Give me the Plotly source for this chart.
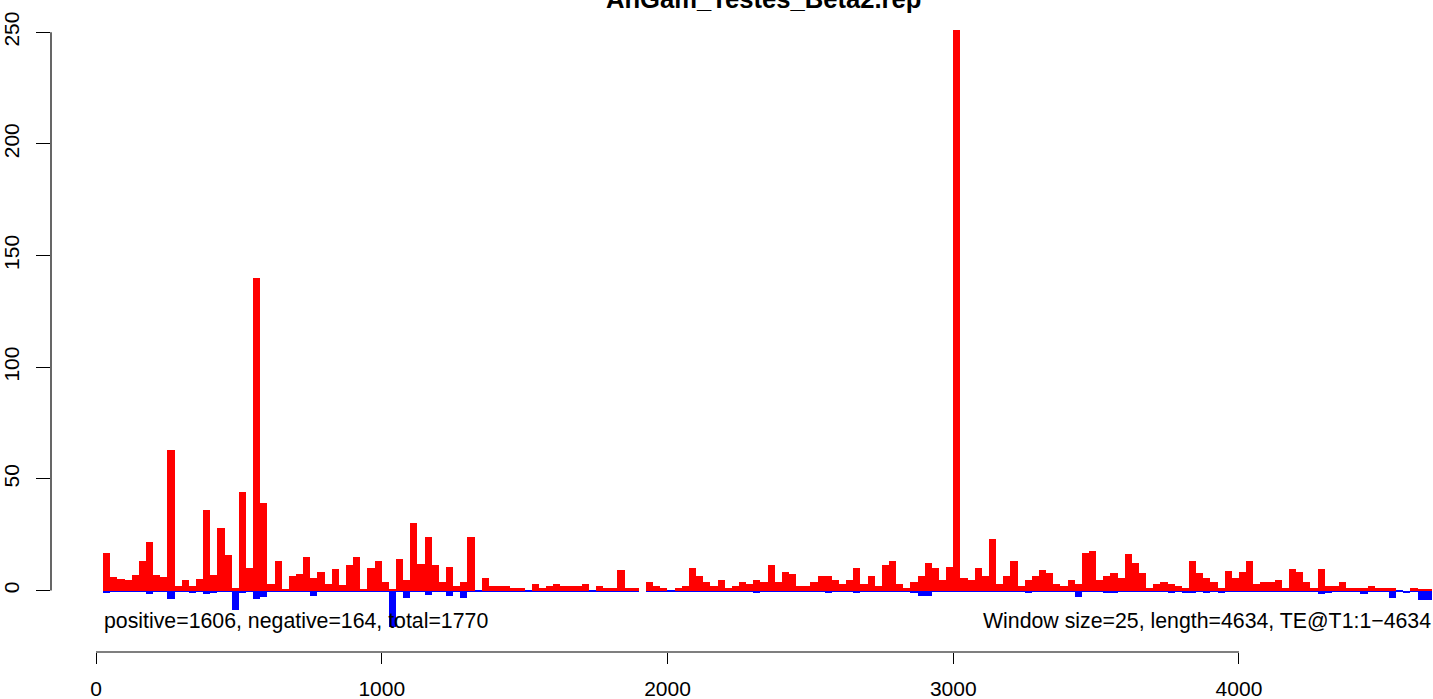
import numpy as np
import plotly.graph_objects as go

WINDOW = 25
LENGTH = 4634
TITLE = "AnGam_Testes_Beta2.rep"

# counts per 25-bp window (window index 1..186)
positive = [
    17, 6, 5, 4.5, 7, 13, 21.5, 7, 6, 63,
    2, 4.5, 2, 5, 36, 7, 28, 16, 1.3, 44,
    10, 140, 39, 3, 13, 0.7, 6.4, 7.6, 15, 5.4,
    8.5, 3.1, 9.8, 2.4, 11.2, 15.2, 0.7, 10.3, 13.4, 3.6,
    0.3, 14.3, 4.5, 30.4, 12, 24.1, 11.2, 3.6, 10.7, 2.2,
    3.6, 24.1, 0, 5.8, 1.8, 1.8, 1.8, 1.3, 1.3, 0,
    3.1, 1.3, 2.2, 3.1, 2.2, 2.2, 1.8, 2.7, 0, 1.8,
    1.3, 1.3, 9.4, 1.3, 0.9, 0, 3.6, 1.8, 0.9, 0,
    0.9, 2.2, 10.3, 6.3, 3.6, 2.2, 4.9, 0.9, 1.8, 4,
    3.1, 4.5, 4, 11.6, 4, 8.5, 7.2, 2.2, 1.8, 4,
    6.3, 6.3, 4.5, 3.1, 4.9, 10.3, 2.7, 6.7, 2.2, 11.2,
    13.4, 2.7, 1.3, 3.6, 6.3, 12.5, 10.3, 4.5, 10.7, 251,
    5.8, 4.9, 10.3, 6.3, 23.2, 3.1, 6.3, 13, 2.2, 4.5,
    6.7, 9.4, 8, 2.7, 2.2, 4.9, 3.1, 17, 17.9, 4.9,
    6.3, 8, 5.4, 16.5, 12.5, 8, 1.3, 3.1, 3.6, 2.7,
    1.8, 1.3, 13.4, 8, 5.4, 3.6, 1.3, 8.9, 5.4, 8.5,
    13, 3.1, 4, 3.6, 4.5, 0.9, 9.8, 8.5, 4, 1.3,
    9.8, 2.2, 1.8, 3.6, 1.3, 1.3, 1.3, 2.2, 0.9, 0.9,
    1.3, 0, 0, 1.3, 0.4, 0.4,
]

negative = [
    1.2, 0.5, 0.5, 0.5, 0.5, 0.5, 1.6, 0.5, 0.5, 3.9,
    0.6, 0.5, 0.9, 0.5, 1.6, 0.9, 0.5, 0.5, 8.8, 1.2,
    0.6, 3.9, 3.0, 0.5, 0.5, 0.5, 0.5, 0.5, 0.5, 2.5,
    0.5, 0.5, 0.5, 0.5, 0.5, 0.5, 0.5, 0.5, 0.5, 0.5,
    16.4, 0.5, 3.4, 0.5, 0.5, 2.1, 0.5, 0.5, 2.5, 0.5,
    3.4, 0.5, 0.5, 0.5, 0.5, 0.5, 0.5, 0.5, 0.5, 0.5,
    0.5, 0.5, 0.5, 0.5, 0.5, 0.5, 0.5, 0.5, 0.5, 0.5,
    0.5, 0.5, 0.5, 0.5, 0.5, 0, 0.5, 0.5, 0.5, 0.5,
    0.5, 0.5, 0.5, 0.5, 0.5, 0.5, 0.5, 0.5, 0.5, 0.5,
    0.5, 1.3, 0.5, 0.5, 0.5, 0.5, 0.5, 0.5, 0.5, 0.5,
    0.5, 0.9, 0.5, 0.5, 0.5, 0.9, 0.5, 0.5, 0.5, 0.5,
    0.5, 0.5, 0.5, 1.3, 2.5, 2.5, 0.5, 0.5, 0.5, 0.5,
    0.5, 0.5, 0.5, 0.5, 0.5, 0.5, 0.5, 0.5, 0.5, 0.9,
    0.5, 0.5, 0.5, 0.5, 0.5, 0.5, 3.0, 0.5, 0.5, 0.5,
    1.2, 0.9, 0.5, 0.5, 0.5, 0.5, 0.5, 0.5, 0.5, 0.9,
    0.5, 0.9, 0.9, 0.5, 0.9, 0.5, 0.9, 0.5, 0.5, 0.5,
    0.5, 0.5, 0.5, 0.5, 0.5, 0.5, 0.5, 0.5, 0.5, 0.5,
    1.6, 0.9, 0.6, 0.5, 0.5, 0.5, 1.6, 0.5, 0.5, 0.5,
    3.4, 0.6, 1.2, 0.5, 4.3, 4.3,
]

x_ticks = [0, 1000, 2000, 3000, 4000]
y_ticks = [0, 50, 100, 150, 200, 250]

n = len(positive)
centers = (np.arange(1, n + 1) + 0.5) * WINDOW
pos_total, neg_total = 1606, 164

FONT = "Liberation Sans, Arial, sans-serif"

fig = go.Figure()
fig.add_trace(go.Bar(x=centers, y=[-v for v in negative], width=WINDOW,
                     marker=dict(color="#0000FF", line=dict(width=0)),
                     showlegend=False, hoverinfo="skip"))
fig.add_trace(go.Bar(x=centers, y=positive, width=WINDOW,
                     marker=dict(color="#FF0000", line=dict(width=0)),
                     showlegend=False, hoverinfo="skip"))

fig.update_layout(
    width=1433, height=699,
    margin=dict(l=51, r=0, t=5, b=47),
    paper_bgcolor="white", plot_bgcolor="white",
    barmode="overlay", bargap=0,
    font=dict(family=FONT, size=21, color="black"),
    xaxis=dict(range=[-157.5, 4679], tickvals=x_ticks,
               ticktext=[str(v) for v in x_ticks], automargin=False,
               ticks="outside", ticklen=11, tickwidth=1.2, tickcolor="black",
               ticklabelstandoff=7,
               showline=False, showgrid=False, zeroline=False,
               tickfont=dict(family=FONT, size=21, color="black")),
    yaxis=dict(range=[-27.54, 262.2], tickvals=y_ticks,
               ticktext=[str(v) for v in y_ticks], tickangle=-90, automargin=False,
               ticks="outside", ticklen=14, tickwidth=1.2, tickcolor="black",
               ticklabelstandoff=9,
               showline=False, showgrid=False, zeroline=False,
               tickfont=dict(family=FONT, size=21, color="black")),
    shapes=[
        dict(type="line", xref="x", yref="paper", x0=x_ticks[0], x1=x_ticks[-1],
             y0=0, y1=0, line=dict(color="black", width=1.2)),
        dict(type="line", xref="paper", yref="y", x0=0, x1=0,
             y0=y_ticks[0], y1=y_ticks[-1], line=dict(color="black", width=1.2)),
    ],
    annotations=[
        dict(text=f"<b>{TITLE}</b>", xref="paper", yref="paper",
             x=(763 - 51) / 1382, y=1.0095, xanchor="center", yanchor="middle",
             showarrow=False, font=dict(family=FONT, size=25.6, color="black")),
        dict(text=f"positive={pos_total}, negative={neg_total}, total={pos_total + neg_total}",
             xref="paper", yref="paper", x=(102 - 51) / 1382, y=0.0474,
             xanchor="left", yanchor="middle", showarrow=False,
             font=dict(family=FONT, size=21.3, color="black")),
        dict(text=f"Window size={WINDOW}, length={LENGTH}, TE@T1:1\u2212{LENGTH}",
             xref="paper", yref="paper", x=1.0, y=0.0474,
             xanchor="right", yanchor="middle", showarrow=False,
             font=dict(family=FONT, size=21.3, color="black")),
    ],
)

fig.write_html("out.html", config={"displayModeBar": False},
               post_script="document.body.style.margin='0';")
